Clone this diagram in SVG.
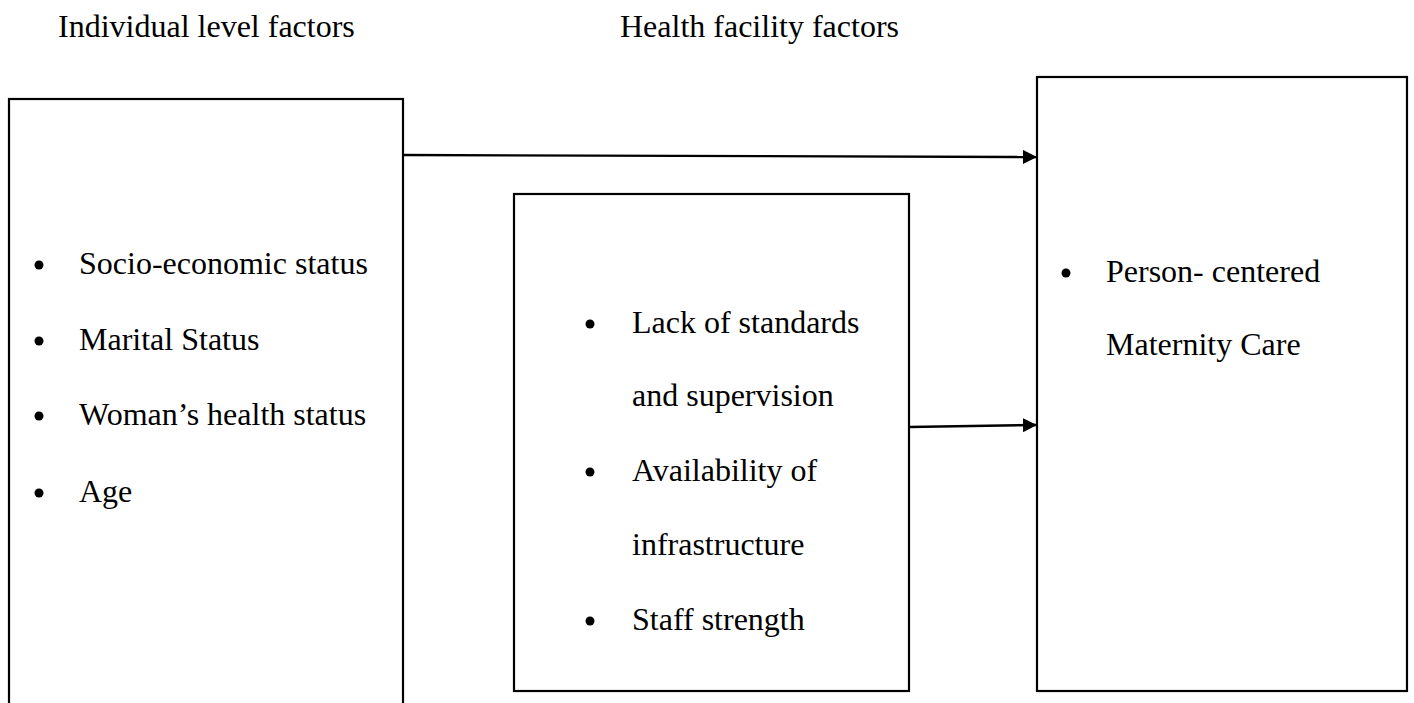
<svg xmlns="http://www.w3.org/2000/svg" width="1414" height="703" viewBox="0 0 1414 703">
<style>
.box{fill:#fff;stroke:#000;stroke-width:2.2}
.t{font-family:"Liberation Serif","Times New Roman",serif;font-size:32px;fill:#000}
.b{fill:#000}
.c{stroke:#000;stroke-width:2.4;fill:none}
</style>
<defs>
<marker id="ah" markerWidth="14" markerHeight="14" refX="13" refY="7" orient="auto" markerUnits="userSpaceOnUse">
<path d="M0,0 L14,7 L0,14 Z" fill="#000"/>
</marker>
</defs>
<rect width="1414" height="703" fill="#fff"/>
<g id="headers">
<text class="t" x="58" y="37">Individual level factors</text>
<text class="t" x="620" y="37">Health facility factors</text>
</g>
<g id="individual">
<rect class="box" x="9" y="99" width="394" height="640"/>
<circle class="b" cx="39" cy="265" r="4.5"/>
<text class="t" x="79" y="274">Socio-economic status</text>
<circle class="b" cx="39" cy="341" r="4.5"/>
<text class="t" x="79" y="350">Marital Status</text>
<circle class="b" cx="39" cy="416" r="4.5"/>
<text class="t" x="79" y="425">Woman’s health status</text>
<circle class="b" cx="39" cy="493" r="4.5"/>
<text class="t" x="79" y="502">Age</text>
</g>
<g id="facility">
<rect class="box" x="514" y="194" width="395" height="497"/>
<circle class="b" cx="590" cy="324" r="4.5"/>
<text class="t" x="632" y="333">Lack of standards</text>
<text class="t" x="632" y="406">and supervision</text>
<circle class="b" cx="590" cy="472" r="4.5"/>
<text class="t" x="632" y="481">Availability of</text>
<text class="t" x="632" y="555">infrastructure</text>
<circle class="b" cx="590" cy="621" r="4.5"/>
<text class="t" x="632" y="630">Staff strength</text>
</g>
<g id="outcome">
<rect class="box" x="1037" y="77" width="370" height="614"/>
<circle class="b" cx="1066" cy="273" r="4.5"/>
<text class="t" x="1106" y="282">Person- centered</text>
<text class="t" x="1106" y="355">Maternity Care</text>
</g>
<g id="connectors">
<line class="c" x1="403" y1="155" x2="1036" y2="157" marker-end="url(#ah)"/>
<line class="c" x1="909" y1="427" x2="1036" y2="425" marker-end="url(#ah)"/>
</g>
</svg>
